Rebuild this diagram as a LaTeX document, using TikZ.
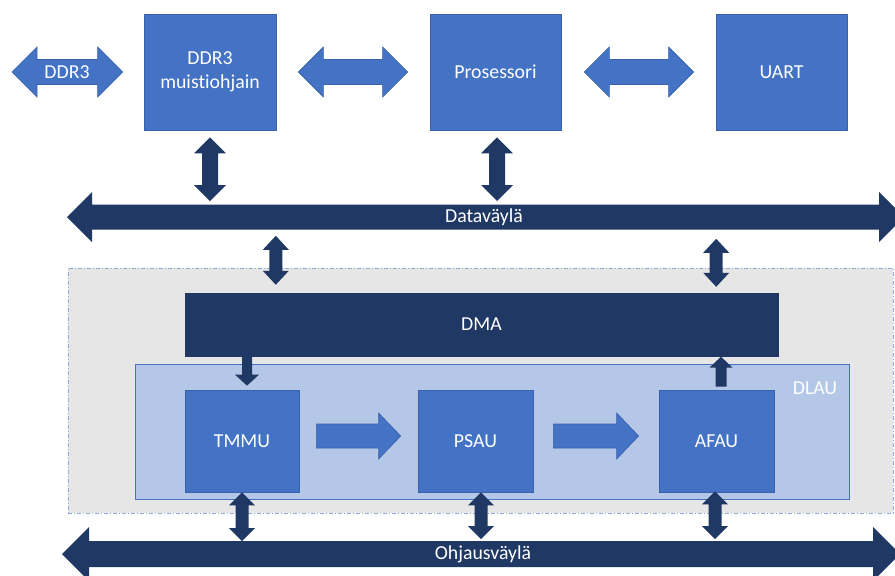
\documentclass[tikz,border=0pt]{standalone}
\usepackage{fontspec}
\setmainfont{Carlito}[Ligatures=NoCommon]
\usetikzlibrary{calc}

\definecolor{midblue}{HTML}{4472C4}
\definecolor{navy}{HTML}{203864}
\definecolor{paleblue}{HTML}{B4C7E7}
\definecolor{panelgray}{HTML}{E7E6E6}
\definecolor{edgeblue}{HTML}{3A62AC}
\definecolor{dashblue}{HTML}{8FAADC}

% Block-arrow shapes; the first point fixes the x (or y) of the axis.
% #1 style, #2 first end, #3 second end, #4 shaft width, #5 head width, #6 head length
\newcommand\vdouble[6]{%
  \path[#1] let \p1=(#2), \p2=(#3) in
    (\x1,\y1) -- (\x1+#5/2,\y1-#6) -- (\x1+#4/2,\y1-#6) -- (\x1+#4/2,\y2+#6)
    -- (\x1+#5/2,\y2+#6) -- (\x1,\y2) -- (\x1-#5/2,\y2+#6) -- (\x1-#4/2,\y2+#6)
    -- (\x1-#4/2,\y1-#6) -- (\x1-#5/2,\y1-#6) -- cycle;}
\newcommand\hdouble[6]{%
  \path[#1] let \p1=(#2), \p2=(#3) in
    (\x1,\y1) -- (\x1+#6,\y1+#5/2) -- (\x1+#6,\y1+#4/2) -- (\x2-#6,\y1+#4/2)
    -- (\x2-#6,\y1+#5/2) -- (\x2,\y1) -- (\x2-#6,\y1-#5/2) -- (\x2-#6,\y1-#4/2)
    -- (\x1+#6,\y1-#4/2) -- (\x1+#6,\y1-#5/2) -- cycle;}
\newcommand\hright[6]{%
  \path[#1] let \p1=(#2), \p2=(#3) in
    (\x1,\y1+#4/2) -- (\x2-#6,\y1+#4/2) -- (\x2-#6,\y1+#5/2) -- (\x2,\y1)
    -- (\x2-#6,\y1-#5/2) -- (\x2-#6,\y1-#4/2) -- (\x1,\y1-#4/2) -- cycle;}
\newcommand\vdown[6]{%
  \path[#1] let \p1=(#2), \p2=(#3) in
    (\x1-#4/2,\y1) -- (\x1+#4/2,\y1) -- (\x1+#4/2,\y2+#6) -- (\x1+#5/2,\y2+#6)
    -- (\x1,\y2) -- (\x1-#5/2,\y2+#6) -- (\x1-#4/2,\y2+#6) -- cycle;}
\newcommand\vup[6]{%
  \path[#1] let \p1=(#2), \p2=(#3) in
    (\x1-#4/2,\y1) -- (\x1+#4/2,\y1) -- (\x1+#4/2,\y2-#6) -- (\x1+#5/2,\y2-#6)
    -- (\x1,\y2) -- (\x1-#5/2,\y2-#6) -- (\x1-#4/2,\y2-#6) -- cycle;}

\begin{document}
\begin{tikzpicture}[x=1pt,y=-1pt,
  every node/.style={font=\fontsize{19.8}{23.5}\selectfont, text=white},
  unit/.style={rectangle, fill=midblue, draw=edgeblue, line width=0.7pt, align=center, inner sep=0pt},
  bluearrow/.style={fill=midblue, draw=edgeblue, line width=0.6pt},
  navyarrow/.style={fill=navy},
  panel/.style={rectangle, fill=panelgray, draw=dashblue, line width=0.9pt,
    dash pattern=on 4pt off 2pt on 1pt off 2pt, inner sep=0pt},
  dlaubox/.style={rectangle, fill=paleblue, draw=midblue, line width=0.9pt, inner sep=0pt},
  dmabox/.style={rectangle, fill=navy, draw=navy, inner sep=0pt}]

\useasboundingbox (0,0) rectangle (895,576);
\clip (0,0) rectangle (895,576);

% top row
\node[unit, minimum width=132pt, minimum height=116pt] (ddr) at (210,72) {DDR3\\muistiohjain};
\node[unit, minimum width=131pt, minimum height=116pt] (cpu) at (495.5,72) {Prosessori};
\node[unit, minimum width=131pt, minimum height=116pt] (uart) at (781.5,72) {UART};

% accelerator region
\node[panel, minimum width=825pt, minimum height=245pt] (acc) at (480.5,390.5) {};
\node[dmabox, minimum width=593pt, minimum height=63pt] (dma) at (481.5,324.5) {DMA};
\node[dlaubox, minimum width=714pt, minimum height=135pt] (dlau) at (492,431.5) {};
\node (dlaulabel) at (815,388) {DLAU};
\node[unit, minimum width=114pt, minimum height=102pt] (tmmu) at (242,441) {TMMU};
\node[unit, minimum width=115pt, minimum height=102pt] (psau) at (475.5,441) {PSAU};
\node[unit, minimum width=115pt, minimum height=102pt] (afau) at (716.5,441) {AFAU};

% bus ends
\coordinate (dbusL) at (67,217);
\coordinate (dbusR) at (904,217);
\coordinate (obusL) at (62,554);
\coordinate (obusR) at (900,554);
\coordinate (ext) at (12,72);

% buses
\hdouble{navyarrow}{dbusL}{dbusR}{25pt}{50pt}{25pt}
\node (dlabel) at (484,217) {Dataväylä};
\hdouble{navyarrow}{obusL}{obusR}{26pt}{54pt}{27pt}
\node (olabel) at (483,554) {Ohjausväylä};

% top row links
\hdouble{bluearrow}{ext}{$(ddr.west)+(-21,0)$}{25pt}{50pt}{25pt}
\node (extlabel) at (67,72) {DDR3};
\hdouble{bluearrow}{$(ddr.east)+(22,0)$}{$(cpu.west)+(-22,0)$}{25pt}{50pt}{25pt}
\hdouble{bluearrow}{$(cpu.east)+(23,0)$}{$(uart.west)+(-22,0)$}{25pt}{50pt}{25pt}

% top row to data bus
\vdouble{navyarrow}{$(ddr.south)+(0,7)$}{$(ddr.south |- dbusL)+(0,-16)$}{16pt}{32pt}{16pt}
\vdouble{navyarrow}{$(cpu.south)+(1.5,7)$}{$(cpu.south |- dbusL)+(0,-16)$}{16pt}{32pt}{16pt}

% data bus to DMA
\vdouble{navyarrow}{$(dma.north west)+(91,-57)$}{$(dma.north west)+(91,-8)$}{13pt}{26pt}{14pt}
\vdouble{navyarrow}{$(dma.north east)+(-62,-54)$}{$(dma.north east)+(-62,-6)$}{13pt}{26pt}{14pt}

% DMA and the units
\vdown{navyarrow}{$(tmmu.north)+(5,-33)$}{$(tmmu.north)+(5,-4)$}{10pt}{24pt}{11pt}
\vup{navyarrow}{$(afau.north)+(4.5,-3)$}{$(afau.north)+(4.5,-33)$}{11pt}{23pt}{11pt}

% data flow between units
\hright{bluearrow}{$(tmmu.east)+(17,-5)$}{$(psau.west)+(-17,-5)$}{24pt}{46pt}{22pt}
\hright{bluearrow}{$(psau.east)+(20,-5)$}{$(afau.west)+(-20,-5)$}{24pt}{46pt}{22pt}

% units to control bus
\vdouble{navyarrow}{tmmu.south}{$(tmmu.south |- obusL)+(0,-13)$}{13pt}{26pt}{13pt}
\vdouble{navyarrow}{$(psau.south)+(5.5,0)$}{$(psau.south |- obusL)+(0,-15)$}{13pt}{26pt}{13pt}
\vdouble{navyarrow}{$(afau.south)+(-1.5,-1)$}{$(afau.south |- obusL)+(0,-15)$}{13pt}{26pt}{13pt}

\end{tikzpicture}
\end{document}
